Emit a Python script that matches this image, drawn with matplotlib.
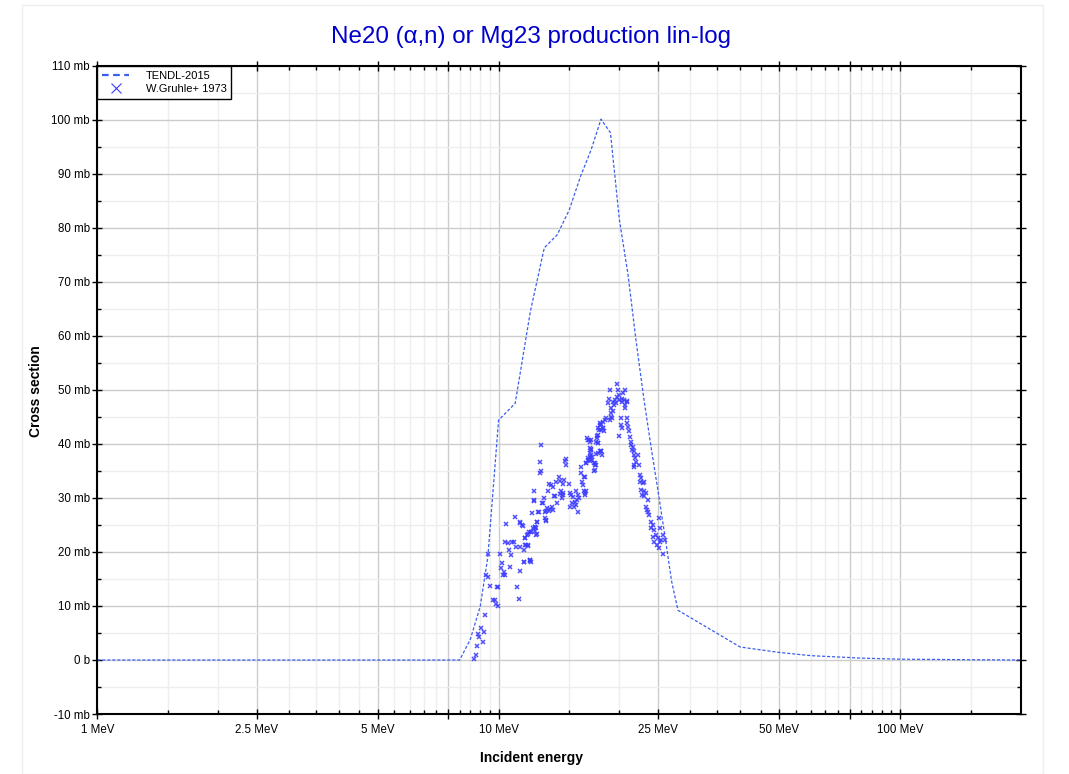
import numpy as np
import matplotlib
matplotlib.use('Agg')
import matplotlib.pyplot as plt
from matplotlib.lines import Line2D
from matplotlib.patches import Rectangle
from matplotlib.ticker import FixedLocator, NullFormatter, FuncFormatter

plt.rcParams['font.family'] = ['Liberation Sans', 'DejaVu Sans']

# TENDL-2015 evaluation (MeV, mb)
tendl_e = [1.0, 8.0, 8.5, 9.0, 9.4, 10.0, 11.0, 12.0, 13.0, 14.0, 15.0, 16.0, 17.0,
           18.0, 19.0, 20.0, 21.0, 22.0, 23.0, 24.0, 25.0, 26.0, 27.0, 28.0,
           40.0, 50.0, 60.0, 80.0, 100.0, 150.0, 200.0]
tendl_s = [0.0, 0.0, 3.8, 9.9, 19.0, 44.4, 47.5, 64.5, 76.3, 78.7, 83.3, 89.5, 94.4,
           100.1, 97.6, 81.5, 71.5, 59.2, 48.5, 39.3, 31.0, 22.7, 14.5, 9.2,
           2.4, 1.4, 0.8, 0.35, 0.15, 0.05, 0.0]

# W.Gruhle+ 1973 measurements (MeV, mb)
gruhle_e = [
    8.67, 8.77, 8.84, 9.13, 8.95, 8.89, 9.21, 9.02, 9.27, 9.77,
    9.66, 9.85, 9.95, 9.52, 9.95, 9.89, 9.29, 9.41, 9.41, 10.06,
    10.19, 10.12, 10.31, 10.35, 10.25, 10.65, 11.11, 11.22, 11.28, 11.56,
    11.95, 12.00, 10.71, 10.59, 10.39, 10.55, 10.79, 10.92, 11.07, 11.28,
    11.56, 11.72, 11.83, 11.61, 11.83, 12.06, 12.29, 12.41, 12.48, 12.34,
    12.48, 13.10, 13.07, 12.58, 13.02, 13.22, 12.12, 11.01, 10.44, 11.34,
    11.43, 12.24, 12.86,
    12.72, 12.70, 12.77, 12.65, 14.74, 14.65, 14.74, 12.22, 12.22, 12.52,
    12.95, 12.90, 13.15, 13.10, 13.30, 13.38, 13.53, 13.65, 13.72, 13.86,
    13.47, 13.58, 13.38, 13.65, 13.97, 14.13, 14.19, 13.93, 14.55, 14.50,
    14.32, 14.45, 14.25, 14.40, 14.50, 14.94, 15.03, 15.17, 15.31, 15.47,
    15.27, 15.09, 15.38, 15.77, 15.62, 15.56, 15.77, 15.86, 15.69, 16.38,
    16.31, 16.22, 16.10, 16.28, 16.07, 16.07, 16.53, 16.69, 16.86, 17.12,
    17.25, 17.35, 17.52, 17.45, 16.93, 17.02, 16.86, 16.69, 16.86, 17.02,
    17.68, 17.57, 17.79, 17.85, 18.20, 18.02, 18.13,
    11.28, 11.50, 11.61, 11.77, 11.90, 12.06, 12.18, 12.29, 12.36, 12.46,
    11.67, 11.83, 11.54, 11.95, 12.06,
    19.75, 18.90, 19.82, 20.60, 20.40, 19.90, 19.73, 20.25, 20.56, 20.84,
    20.35, 19.53, 19.26, 20.01, 19.64, 19.36, 18.79, 18.72, 19.09, 19.26,
    19.02, 20.60, 20.68, 20.94,
    18.54, 19.02, 19.16, 18.90, 18.37, 18.20, 18.02, 17.85, 17.68, 17.96,
    18.20, 18.30, 17.74, 17.61, 17.68, 17.52, 16.76, 16.63, 17.02, 16.95,
    17.07, 16.69, 16.86, 16.53, 17.35, 17.42, 17.28, 17.68, 18.02, 17.85,
    16.38, 16.53, 16.38,
    20.17, 20.17, 20.25, 20.01, 20.84, 20.94, 21.01, 21.10, 21.20, 21.33,
    21.41, 21.61, 21.49, 21.81, 21.73, 21.90, 22.23, 22.02, 21.73, 22.32,
    21.81,
    22.45, 22.66, 22.45, 22.88, 23.10, 22.66, 23.01, 23.32, 22.75, 23.10,
    23.54, 23.32, 23.45, 23.63, 23.77, 23.91, 24.22, 24.00, 24.46, 25.17,
    25.32, 24.70, 25.03, 25.41, 25.65, 25.91, 24.84, 25.17, 25.65, 25.32,
    24.46, 24.22,
]
gruhle_s = [
    0.1, 0.9, 2.6, 3.4, 4.2, 4.8, 5.1, 6.0, 8.3, 11.1,
    11.1, 10.4, 10.0, 13.7, 13.5, 13.5, 15.7, 15.4, 19.6, 19.6,
    17.9, 17.0, 16.3, 15.7, 15.7, 17.2, 13.5, 11.2, 16.5, 18.2,
    18.4, 18.6, 19.4, 20.4, 21.9, 21.7, 21.9, 21.9, 21.0, 20.9,
    20.4, 21.3, 21.1, 22.5, 23.4, 23.6, 23.8, 24.4, 23.3, 24.7,
    25.6, 25.8, 26.2, 27.4, 27.4, 28.1, 27.3, 26.5, 25.2, 25.4,
    25.0, 29.4, 29.1,
    39.8, 36.6, 35.0, 34.7, 37.2, 36.9, 36.1, 31.3, 29.6, 27.4,
    29.9, 29.1, 27.6, 25.9, 31.2, 32.6, 32.4, 32.1, 30.4, 30.4,
    27.9, 28.3, 27.6, 27.8, 29.1, 33.8, 33.2, 33.0, 33.4, 32.6,
    31.2, 31.0, 30.7, 29.9, 30.5, 32.6, 30.9, 30.5, 30.1, 29.3,
    29.0, 28.3, 28.3, 27.4, 28.7, 31.3, 30.5, 29.9, 29.6, 30.9,
    31.3, 32.4, 33.0, 33.9, 34.6, 35.8, 36.4, 37.0, 37.6, 37.1,
    36.4, 35.2, 36.1, 38.1, 38.3, 38.9, 39.2, 40.8, 40.4, 40.7,
    40.1, 41.5, 42.6, 43.8, 42.9, 38.6, 37.9,
    25.6, 24.8, 22.5, 23.1, 23.6, 23.7, 24.4, 24.7, 23.1, 25.6,
    21.3, 21.3, 18.2, 18.5, 18.2,
    51.0, 50.0, 50.0, 50.0, 49.4, 49.0, 48.7, 48.4, 48.1, 47.8,
    47.7, 48.1, 47.8, 48.1, 47.5, 47.2, 48.4, 47.5, 46.6, 46.0,
    45.7, 46.6, 47.2, 47.9,
    44.7, 44.9, 44.7, 44.4, 44.4, 44.1, 43.6, 43.5, 42.9, 42.6,
    42.9, 42.3, 41.6, 41.0, 40.1, 40.4, 40.7, 41.0, 39.1, 37.9,
    37.6, 37.3, 36.8, 36.4, 36.4, 36.0, 35.0, 38.3, 38.7, 38.6,
    33.9, 31.2, 30.5,
    44.7, 43.5, 42.9, 41.5, 44.7, 43.8, 43.2, 42.3, 41.3, 40.4,
    39.8, 39.5, 38.9, 38.7, 37.9, 37.3, 37.9, 36.7, 36.1, 36.0,
    35.8,
    34.2, 33.6, 33.0, 32.7, 33.0, 31.5, 31.2, 30.9, 30.5, 30.4,
    29.6, 28.4, 27.8, 27.4, 26.8, 25.6, 25.0, 24.4, 24.1, 26.2,
    24.4, 23.1, 22.5, 22.2, 23.1, 22.2, 21.3, 20.8, 19.7, 21.9,
    21.9, 22.8,
]

x_major = [1, 2.5, 5, 7.5, 10, 25, 50, 75, 100]
x_major_labels = ['1 MeV', '2.5 MeV', '5 MeV', '', '10 MeV', '25 MeV', '50 MeV', '', '100 MeV']
x_minor = [1.5, 2, 3, 3.5, 4, 4.5, 5.5, 6, 6.5, 7, 8, 8.5, 9, 9.5, 15, 20,
           30, 35, 40, 45, 55, 60, 65, 70, 80, 85, 90, 95, 150]

line_col = '#3a5ef0'
pt_col = '#3c3cff'

fig = plt.figure(figsize=(10.69, 7.74), dpi=100)
fig.add_artist(Rectangle((22 / 1069, 0), (1043 - 22) / 1069, (774 - 5) / 774,
                         transform=fig.transFigure, fill=False,
                         edgecolor='#eeeeee', lw=1))
ax = fig.add_axes([0.0910, 0.0775, 0.8638, 0.8376])

ax.plot(tendl_e, tendl_s, color=line_col, lw=0.9, linestyle=(0, (2.5, 1.5)))
ax.plot(gruhle_e, gruhle_s, 'x', color=pt_col, ms=3.5, mew=1.1, alpha=0.9)

ax.set_xscale('log')
ax.set_xlim(1, 200)
ax.set_ylim(-10, 110)

ax.xaxis.set_major_locator(FixedLocator(x_major))
ax.set_xticklabels(x_major_labels)
ax.xaxis.set_minor_locator(FixedLocator(x_minor))
ax.xaxis.set_minor_formatter(NullFormatter())

ax.yaxis.set_major_locator(FixedLocator(np.arange(-10, 111, 10)))
ax.yaxis.set_minor_locator(FixedLocator(np.arange(-5, 110, 10)))
ax.yaxis.set_major_formatter(FuncFormatter(lambda v, p: '0 b' if v == 0 else f'{v:.0f} mb'))

ax.tick_params(which='major', direction='inout', length=6.5, width=1,
               top=True, right=True, labelsize=8.3, colors='black')
ax.tick_params(which='minor', direction='in', length=3, width=1, top=True, right=True)
ax.tick_params(axis='x', which='major', pad=4)
ax.tick_params(axis='y', which='major', pad=2)

ax.grid(which='major', color='#cccccc', lw=1)
ax.grid(which='minor', color='#eeeeee', lw=1)
ax.set_axisbelow(True)
for s in ax.spines.values():
    s.set_linewidth(1.5)
    s.set_color('black')

handles = [Line2D([], [], color=line_col, lw=1.6, linestyle=(0, (3, 2))),
           Line2D([], [], color=pt_col, marker='x', linestyle='None', ms=6.5, mew=0.8)]
leg = ax.legend(handles, ['TENDL-2015', 'W.Gruhle+ 1973'], loc='upper left',
                bbox_to_anchor=(0, 1), borderaxespad=0, fontsize=8,
                fancybox=False, framealpha=1, edgecolor='black',
                handlelength=2.4, borderpad=0.45, labelspacing=0.3, handletextpad=1.5)
leg.get_frame().set_linewidth(1)

fig.text(0.497, 1 - 37 / 774, 'Ne20 (α,n) or Mg23 production lin-log',
         ha='center', va='center', fontsize=17.4, color='#0000cc')
fig.text(36 / 1069, 1 - 391 / 774, 'Cross section', rotation=90,
         ha='center', va='center', fontsize=10, fontweight='bold')
fig.text(531 / 1069, 1 - 758 / 774, 'Incident energy',
         ha='center', va='center', fontsize=10, fontweight='bold')

fig.savefig('out.png', dpi=100)
